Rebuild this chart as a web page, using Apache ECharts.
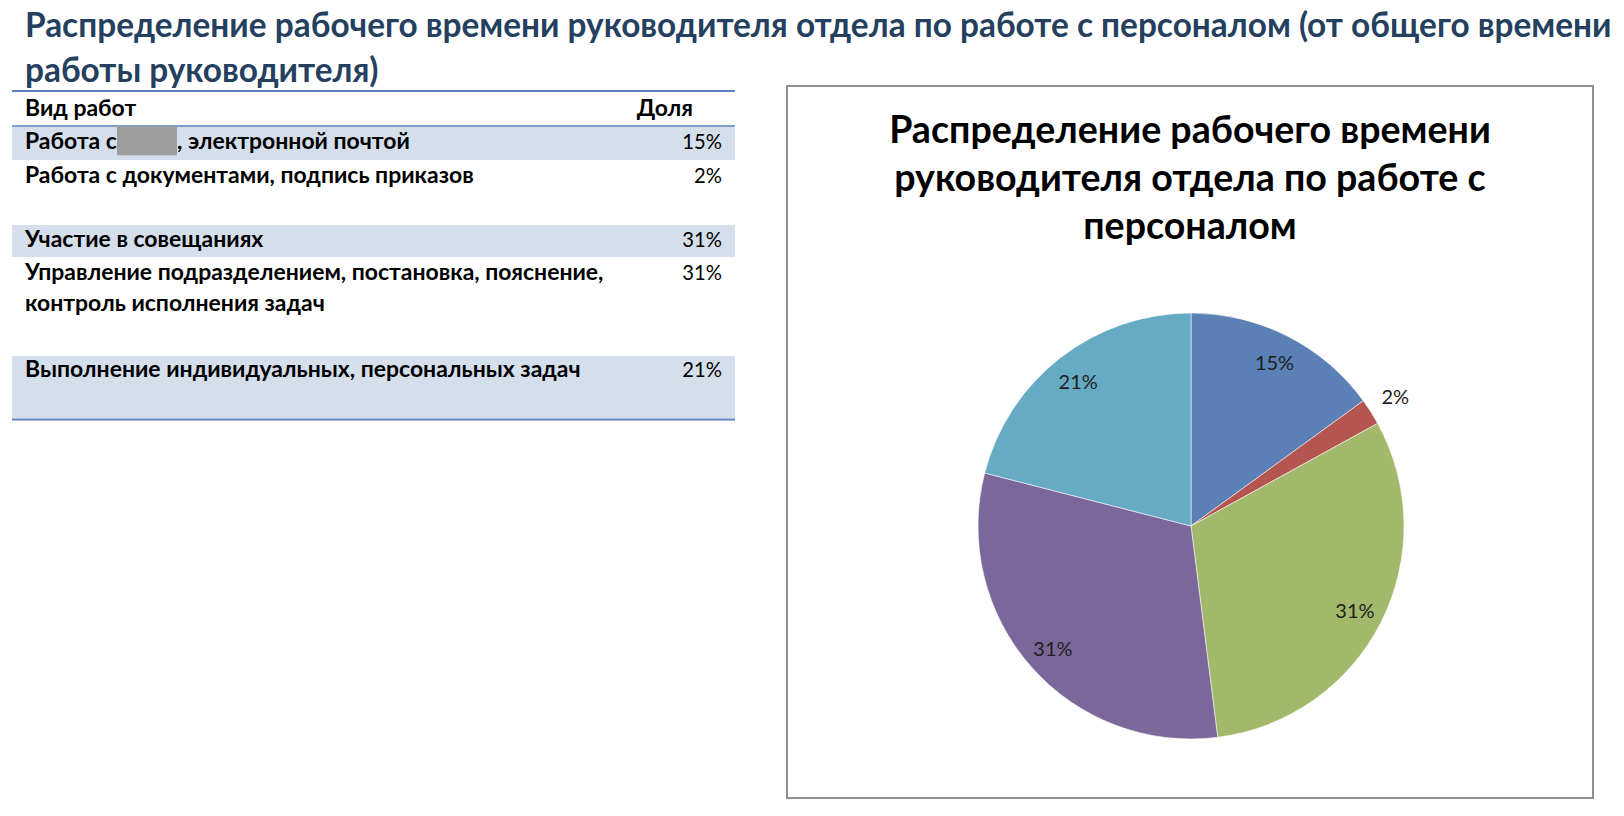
<!DOCTYPE html>
<html><head><meta charset="utf-8">
<script src="https://cdn.jsdelivr.net/npm/echarts@6/dist/echarts.min.js"></script>
<style>html,body{margin:0;padding:0;background:#fff;overflow:hidden}#c{width:1624px;height:816px}</style>
</head><body><div id="c"></div>
<script>
// ---- data ----
const pageTitle = ['Распределение рабочего времени руководителя отдела по работе с персоналом (от общего времени', 'работы руководителя)'];
const chartTitle = ['Распределение рабочего времени', 'руководителя отдела по работе с', 'персоналом'];
const tableHeaders = ['Вид работ', 'Доля'];
const categories = [
  'Работа с{r| }, электронной почтой',
  'Работа с документами, подпись приказов',
  'Участие в совещаниях',
  'Управление подразделением, постановка, пояснение,\nконтроль исполнения задач',
  'Выполнение индивидуальных, персональных задач'
];
const shares = [15, 2, 31, 31, 21];
const sliceColors = ['#5a80b6', '#b5554f', '#a2b86a', '#7c679b', '#66aac4'];

// ---- helpers ----
const FONT = 'Lato';
const ctx = document.createElement('canvas').getContext('2d');
function measure(text, size, weight) {
  ctx.font = (weight || 'normal') + ' ' + size + 'px ' + FONT;
  return ctx.measureText(text.replace(/\{r\|[^}]*\}/g, '')).width;
}
function fitScale(text, size, weight, target) { return target / measure(text, size, weight); }

const graphics = [];
const titleColor = '#253f5f';

// page title
const ptSize = 34;
const ptScale = fitScale(pageTitle[0], ptSize, 'bold', 1587);
const ptBase = [35, 80];
pageTitle.forEach((t, i) => {
  graphics.push({ type: 'text', x: 25, y: ptBase[i] - 0.33 * ptSize, scaleX: ptScale, silent: true,
    style: { text: t, x: 0, y: 0, fill: titleColor, font: 'bold ' + ptSize + 'px ' + FONT, align: 'left', verticalAlign: 'middle' } });
});

// table
const tbLeft = 12, tbRight = 735;
const rowTop = [126, 160, 225, 257, 356];
const rowBottom = [160, 225, 257, 356, 418];
const rowBase = [148, 182, 246, 279, 376];
const lineGap = 31;
const tSize = 22;
const tScale = fitScale(categories[1], tSize, 'bold', 449);

categories.forEach((c, i) => {
  if (i % 2 === 0) {
    graphics.push({ type: 'rect', silent: true, shape: { x: tbLeft, y: rowTop[i], width: tbRight - tbLeft, height: rowBottom[i] - rowTop[i] },
      style: { fill: '#d5dfec' } });
  }
});
// lines
[[91, 2], [126, 1.5], [419.5, 2]].forEach(([y, w]) => {
  graphics.push({ type: 'line', silent: true, shape: { x1: tbLeft, y1: y, x2: tbRight, y2: y }, style: { stroke: '#5b84bd', lineWidth: w } });
});
// header
graphics.push({ type: 'text', x: 25, y: 115 - 0.33 * tSize, scaleX: tScale, silent: true,
  style: { text: tableHeaders[0], x: 0, y: 0, fill: '#000', font: 'bold ' + tSize + 'px ' + FONT, align: 'left', verticalAlign: 'middle' } });
graphics.push({ type: 'text', x: 693, y: 115 - 0.33 * tSize, scaleX: tScale, silent: true,
  style: { text: tableHeaders[1], x: 0, y: 0, fill: '#000', font: 'bold ' + tSize + 'px ' + FONT, align: 'right', verticalAlign: 'middle' } });
// rows
categories.forEach((c, i) => {
  c.split('\n').forEach((line, j) => {
    graphics.push({ type: 'text', x: 25, y: rowBase[i] + j * lineGap - 0.33 * tSize, scaleX: tScale, silent: true,
      style: { text: line, x: 0, y: 0, fill: '#000', font: 'bold ' + tSize + 'px ' + FONT, align: 'left', verticalAlign: 'middle',
        rich: { r: { backgroundColor: '#9d9d9d', width: 60 / tScale, height: 29, fontSize: tSize } } } });
  });
  graphics.push({ type: 'text', x: 722, y: rowBase[i] - 0.33 * tSize, scaleX: 0.92, silent: true,
    style: { text: shares[i] + '%', x: 0, y: 0, fill: '#000', font: 'normal ' + tSize + 'px ' + FONT, align: 'right', verticalAlign: 'middle' } });
});

// chart frame
graphics.push({ type: 'rect', silent: true, shape: { x: 787, y: 86, width: 806, height: 712 },
  style: { fill: '#fff', stroke: '#8f8f8f', lineWidth: 2 }, z: -10 });
// chart title
const ctSize = 38;
const ctScale = fitScale(chartTitle[0], ctSize, 'bold', 602);
const ctBase = [141, 189, 237];
chartTitle.forEach((t, i) => {
  graphics.push({ type: 'text', x: 1190, y: ctBase[i] - 0.33 * ctSize, scaleX: ctScale, silent: true,
    style: { text: t, x: 0, y: 0, fill: '#000', font: 'bold ' + ctSize + 'px ' + FONT, align: 'center', verticalAlign: 'middle' } });
});

// ---- pie ----
const pieCenter = [1191, 526];
const pieR = 213;
const pieData = categories.map((c, i) => ({
  name: c.replace(/\{r\|[^}]*\}/, ' …').replace('\n', ' '),
  value: shares[i],
  itemStyle: { color: sliceColors[i] }
}));
const labelFont = { fontFamily: FONT, fontSize: 20, color: '#1e1e1e' };
const ghost = (r, showIdx) => ({
  type: 'pie', center: pieCenter, radius: [0, r], startAngle: 90, clockwise: true, silent: true, animation: false, z: 5,
  emphasis: { disabled: true },
  labelLine: { show: false },
  data: shares.map((v, i) => ({ name: pieData[i].name, value: v, itemStyle: { color: 'rgba(0,0,0,0)' },
    label: { show: showIdx(i) } })),
  label: Object.assign({ position: 'inside', formatter: '{c}%' }, labelFont)
});

const option = {
  backgroundColor: '#fff',
  animation: false,
  graphic: graphics,
  series: [
    { type: 'pie', center: pieCenter, radius: [0, pieR], startAngle: 90, clockwise: true, silent: true, animation: false, z: 2,
      label: { show: false }, labelLine: { show: false }, emphasis: { disabled: true },
      itemStyle: { borderColor: 'rgba(255,255,255,0.55)', borderWidth: 1 },
      data: pieData },
    ghost(362, i => i !== 1),
    ghost(478, i => i === 1)
  ]
};
const chart = echarts.init(document.getElementById('c'), null, { renderer: 'svg' });
chart.setOption(option);
</script></body></html>
